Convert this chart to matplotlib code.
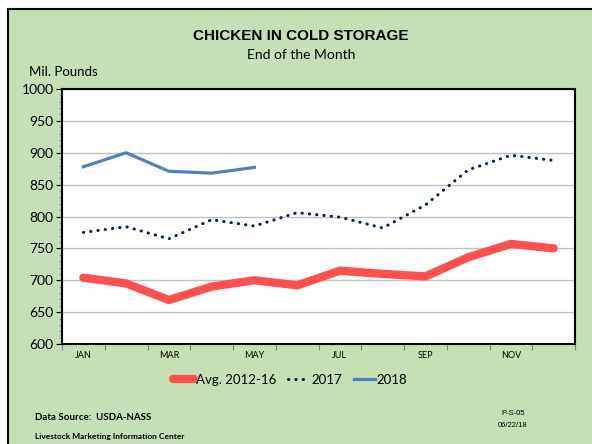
import numpy as np
import matplotlib
matplotlib.use("Agg")
import matplotlib.pyplot as plt
from matplotlib.patches import Rectangle
from matplotlib.ticker import MultipleLocator, FixedLocator, NullFormatter

months = ["JAN", "FEB", "MAR", "APR", "MAY", "JUN",
          "JUL", "AUG", "SEP", "OCT", "NOV", "DEC"]
avg_2012_16 = [704, 695, 669, 690, 700, 692, 715, 710, 706, 736, 757, 750]
y2017 = [775, 784, 765, 795, 785, 806, 799, 782, 818, 873, 896, 888]
y2018 = [878, 900, 871, 868, 877]

W, H = 592, 444
fig = plt.figure(figsize=(W / 100, H / 100), dpi=100, facecolor="white")

# green panel with black border
panel = Rectangle((8 / W, -0.01), 1.0, (H - 9) / H + 0.01,
                  transform=fig.transFigure, facecolor="#c5e0b4",
                  edgecolor="black", linewidth=1.5, zorder=-10)
fig.patches.append(panel)

ax = fig.add_axes([62 / W, (H - 344) / H, (575 - 62) / W, (344 - 89) / H])
ax.set_facecolor("white")

x = np.arange(len(months))
ax.plot(x, avg_2012_16, color="#ff5050", lw=6, solid_capstyle="round",
        solid_joinstyle="round", label="Avg. 2012-16", zorder=3)
ax.plot(x, y2017, color="#002060", lw=2.2, linestyle=(0, (0.1, 2.3)),
        dash_capstyle="round", label="2017", zorder=4)
ax.plot(x[:len(y2018)], y2018, color="#4f81bd", lw=2.3,
        solid_joinstyle="round", label="2018", zorder=5)

ax.set_xlim(-0.5, 11.5)
ax.set_ylim(600, 1000)

# y axis
ax.yaxis.set_major_locator(MultipleLocator(50))
ax.yaxis.set_minor_locator(MultipleLocator(10))
ax.grid(axis="y", color="#c0c0c0", lw=1.0, zorder=0)
ax.tick_params(axis="y", which="major", direction="out", length=4,
               width=0.8, labelsize=10, pad=2)
ax.tick_params(axis="y", which="minor", direction="out", length=2.5,
               width=0.6, color="#808080")
for lab in ax.get_yticklabels():
    lab.set_fontfamily("Lato")

# x axis: ticks between months, labels on every other month
ax.xaxis.set_major_locator(FixedLocator(np.arange(-0.5, 12, 1)))
ax.xaxis.set_major_formatter(NullFormatter())
ax.xaxis.set_minor_locator(FixedLocator(x))
ax.set_xticklabels([m if i % 2 == 0 else "" for i, m in enumerate(months)],
                   minor=True)
ax.tick_params(axis="x", which="major", direction="out", length=4,
               width=0.8, color="#808080")
ax.tick_params(axis="x", which="minor", length=0, labelsize=6.5, pad=5)
for lab in ax.get_xticklabels(minor=True):
    lab.set_fontfamily("Lato")

for s in ax.spines.values():
    s.set_color("black")
    s.set_linewidth(1.5)

# titles and notes
fig.text(301 / W, 1 - 36 / H, "CHICKEN IN COLD STORAGE", ha="center",
         va="center", fontsize=11, fontweight="bold",
         family="Liberation Sans")
fig.text(301 / W, 1 - 55 / H, "End of the Month", ha="center",
         va="center", fontsize=10, family="Lato")
fig.text(29 / W, 1 - 72 / H, "Mil. Pounds", ha="left", va="center",
         fontsize=9.5, family="Lato")

leg = fig.legend(loc="center", bbox_to_anchor=(290 / W, 1 - 380 / H),
                 ncol=3, frameon=False, handlelength=1.6,
                 handletextpad=0.15, columnspacing=0.9,
                 prop={"family": "Lato", "size": 9.5})

fig.text(35 / W, 1 - 417 / H, "Data Source:  USDA-NASS", ha="left",
         va="center", fontsize=7, fontweight="bold", family="Lato")
fig.text(35 / W, 1 - 436 / H, "Livestock Marketing Information Center",
         ha="left", va="center", fontsize=6, fontweight="bold",
         family="Lato")
fig.text(513 / W, 1 - 413 / H, "P-S-05", ha="center", va="center",
         fontsize=5.5, family="Liberation Sans")
fig.text(513 / W, 1 - 425 / H, "06/22/18", ha="center", va="center",
         fontsize=5.5, family="Liberation Sans")

fig.savefig("out.png", dpi=100, facecolor=fig.get_facecolor())
